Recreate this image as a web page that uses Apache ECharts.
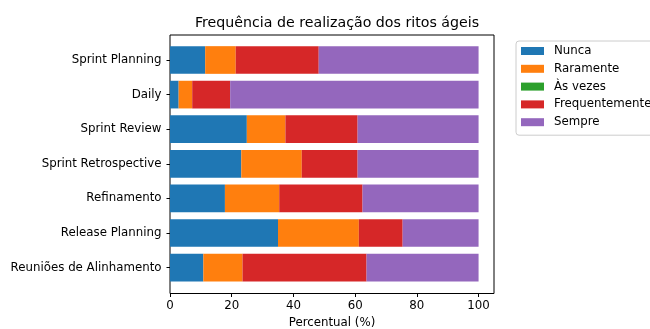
<!DOCTYPE html>
<html>
<head>
<meta charset="utf-8">
<script src="https://cdn.jsdelivr.net/npm/echarts@6/dist/echarts.min.js"></script>
<style>
html,body{margin:0;padding:0;background:#fff;}
#chart{width:650px;height:329px;}
</style>
</head>
<body>
<div id="chart"></div>
<script>
const categories = ["Sprint Planning", "Daily", "Sprint Review", "Sprint Retrospective", "Refinamento", "Release Planning", "Reuniões de Alinhamento"];
const nunca = [11.4, 2.8, 24.9, 23.1, 17.8, 35.0, 10.8];
const raramente = [9.9, 4.4, 12.5, 19.6, 17.6, 26.2, 12.7];
const asVezes = [0, 0, 0, 0, 0, 0, 0];
const frequentemente = [26.9, 12.3, 23.4, 18.1, 27.0, 14.2, 40.2];
const sempre = [51.8, 80.5, 39.2, 39.2, 37.6, 24.6, 36.3];
const seriesNames = ["Nunca", "Raramente", "Às vezes", "Frequentemente", "Sempre"];
const xTicks = [0, 20, 40, 60, 80, 100];

const colors = ["#1f77b4", "#ff7f0e", "#2ca02c", "#d62728", "#9467bd"];
const seriesData = [nunca, raramente, asVezes, frequentemente, sempre];
const FONT = "DejaVu Sans";
const FS = 11.8;
const chart = echarts.init(document.getElementById('chart'), null, {renderer: 'canvas'});

const option = {
  animation: false,
  color: colors,
  title: {
    text: "Frequência de realização dos ritos ágeis",
    left: 332, textAlign: 'center', top: 11.5,
    textStyle: {fontFamily: FONT, fontSize: 14.2, fontWeight: 'normal', color: '#000'}
  },
  legend: {
    orient: 'vertical', left: 516, top: 41,
    padding: [3, 5, 6, 5],
    itemWidth: 23, itemHeight: 8, itemGap: 3.8,
    borderColor: '#cccccc', borderWidth: 1, borderRadius: 3,
    icon: 'rect',
    textStyle: {fontFamily: FONT, fontSize: FS, color: '#000', lineHeight: 14, padding: [0, 0, 0, 5]},
    data: seriesNames
  },
  grid: [
    {left: 170, right: 156, top: 35, bottom: 35.5, outerBoundsMode: 'none', containLabel: false, show: true, borderColor: '#000', borderWidth: 1, backgroundColor: 'transparent'},
    {left: 170, right: 156, top: 42.7, bottom: 44.1, outerBoundsMode: 'none', containLabel: false}
  ],
  xAxis: [
    {
      type: 'value', gridIndex: 0, min: 0, max: 105,
      splitLine: {show: false},
      axisLine: {show: false},
      axisTick: {show: true, length: 3.5, lineStyle: {color: '#000'}, customValues: xTicks},
      axisLabel: {fontFamily: FONT, fontSize: FS, color: '#000', margin: 6.5, customValues: xTicks},
      name: "Percentual (%)", nameLocation: 'middle', nameGap: 23.5,
      nameTextStyle: {fontFamily: FONT, fontSize: FS, color: '#000'}
    },
    {type: 'value', gridIndex: 1, min: 0, max: 105, show: false}
  ],
  yAxis: [
    {type: 'value', gridIndex: 0, min: 0, max: 1, show: false},
    {
      type: 'category', gridIndex: 1, data: categories, inverse: true,
      axisLine: {show: false},
      axisTick: {show: true, length: 3.5, alignWithLabel: true, lineStyle: {color: '#000'}},
      axisLabel: {fontFamily: FONT, fontSize: FS, color: '#000', margin: 8.5}
    }
  ],
  series: seriesNames.map((n, i) => ({
    name: n, type: 'bar', stack: 'total',
    xAxisIndex: 1, yAxisIndex: 1,
    barWidth: '80%',
    itemStyle: {color: colors[i]},
    data: seriesData[i]
  }))
};
chart.setOption(option);
</script>
</body>
</html>
